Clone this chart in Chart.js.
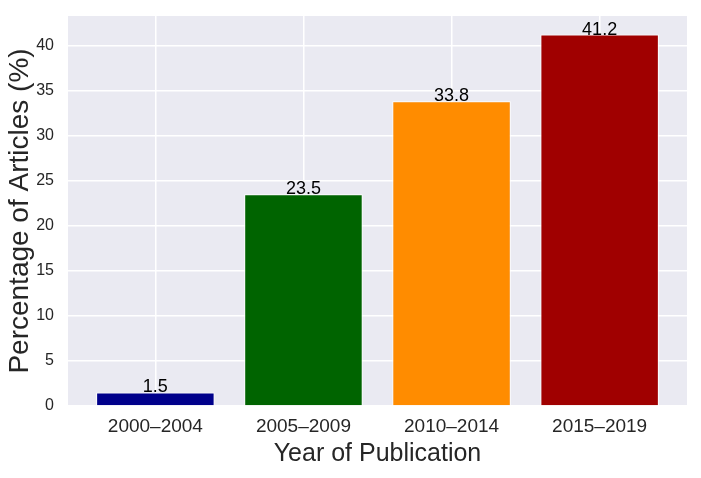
<!DOCTYPE html>
<html>
<head>
<meta charset="utf-8">
<script src="https://cdn.jsdelivr.net/npm/chart.js@4.4.1/dist/chart.umd.min.js"></script>
<style>
  html, body { margin: 0; padding: 0; background: #fff; }
  #wrap { width: 701px; height: 478px; }
</style>
</head>
<body>
<div id="wrap"><canvas id="grafico"></canvas></div>
<script>
// data
const categories = ['2000–2004', '2005–2009', '2010–2014', '2015–2019'];
const percentages = [1.5, 23.5, 33.8, 41.2];
const yTicks = [0, 5, 10, 15, 20, 25, 30, 35, 40];

const barColors = ['#00008b', '#006400', '#ff8c00', '#a00000'];

// plot background like seaborn darkgrid
const bgPlugin = {
  id: 'bg',
  beforeDraw(chart) {
    const a = chart.chartArea, ctx = chart.ctx;
    ctx.save();
    ctx.fillStyle = '#eaeaf2';
    ctx.fillRect(a.left, a.top, a.right - a.left, a.bottom - a.top);
    ctx.restore();
  }
};

// value on top of each bar
const labelPlugin = {
  id: 'labels',
  afterDatasetsDraw(chart) {
    const ctx = chart.ctx;
    const meta = chart.getDatasetMeta(0);
    ctx.save();
    ctx.font = '18px "Liberation Sans", Arial, sans-serif';
    ctx.fillStyle = '#000';
    ctx.textAlign = 'center';
    ctx.textBaseline = 'alphabetic';
    meta.data.forEach(function(bar, i) {
      ctx.fillText(String(percentages[i]), bar.x, bar.y);
    });
    ctx.restore();
  }
};

const config = {
  type: 'bar',
  data: {
    datasets: [{
      data: percentages.map(function(v, i) { return {x: i, y: v}; }),
      backgroundColor: barColors,
      borderColor: '#ffffff',
      borderWidth: 1,
      barPercentage: 0.8,
      categoryPercentage: 1.0
    }]
  },
  options: {
    responsive: true,
    maintainAspectRatio: false,
    animation: false,
    layout: { padding: { top: 16, right: 14, left: 0, bottom: 0 } },
    plugins: {
      legend: { display: false },
      tooltip: { enabled: false }
    },
    scales: {
      x: {
        type: 'linear',
        offset: false,
        min: -0.59,
        max: 3.59,
        afterBuildTicks: function(scale) {
          scale.ticks = categories.map(function(c, i) { return {value: i}; });
        },
        afterFit: function(scale) {
          scale.height = 72;
          scale.paddingLeft = 0;
          scale.paddingRight = 0;
        },
        ticks: {
          stepSize: 1,
          padding: 9,
          color: '#262626',
          font: { family: '"Liberation Sans", Arial, sans-serif', size: 19 },
          callback: function(v) { return categories[v]; }
        },
        grid: { offset: false, color: '#ffffff', lineWidth: 1.5, drawTicks: false },
        border: { display: false },
        title: {
          display: true,
          text: 'Year of Publication',
          color: '#262626',
          font: { family: '"Liberation Sans", Arial, sans-serif', size: 25 },
          padding: { top: 9, bottom: 9 }
        }
      },
      y: {
        min: 0,
        max: 43.26,
        afterBuildTicks: function(scale) {
          scale.ticks = yTicks.map(function(v) { return {value: v}; });
        },
        afterFit: function(scale) {
          scale.width = 68;
          scale.paddingTop = 0;
          scale.paddingBottom = 0;
        },
        ticks: {
          stepSize: 5,
          padding: 14,
          color: '#262626',
          font: { family: '"Liberation Sans", Arial, sans-serif', size: 16 }
        },
        grid: { color: '#ffffff', lineWidth: 1.5, drawTicks: false },
        border: { display: false },
        title: {
          display: true,
          text: 'Percentage of Articles (%)',
          color: '#262626',
          font: { family: '"Liberation Sans", Arial, sans-serif', size: 28 },
          padding: { top: 3, bottom: 3 }
        }
      }
    }
  },
  plugins: [bgPlugin, labelPlugin]
};

var meuGrafico = new Chart(document.getElementById('grafico'), config);
</script>
</body>
</html>
